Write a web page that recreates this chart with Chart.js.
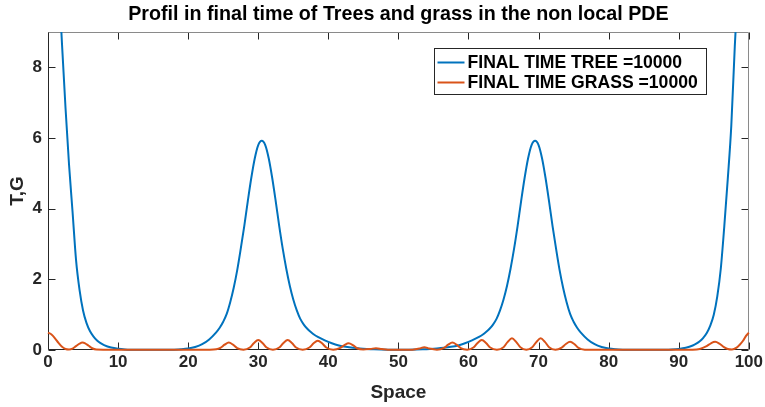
<!DOCTYPE html>
<html>
<head>
<meta charset="utf-8">
<script src="https://cdn.jsdelivr.net/npm/chart.js@4.4.1/dist/chart.umd.min.js"></script>
<style>
  html, body { margin: 0; padding: 0; background: #ffffff; }
  #wrap { width: 765px; height: 407px; }
</style>
</head>
<body>
<div id="wrap"><canvas id="c" width="765" height="407"></canvas></div>
<script>
// ---- data ----
const chartTitle = "Profil in final time of Trees and grass in the non local PDE";
const xLabel = "Space";
const yLabel = "T,G";
const treeLabel = "FINAL TIME TREE =10000";
const grassLabel = "FINAL TIME GRASS =10000";
const xTicks = [0, 10, 20, 30, 40, 50, 60, 70, 80, 90, 100];
const yTicks = [0, 2, 4, 6, 8];

const treeX = [0,0.5,1,1.5,2,2.5,3,3.5,4,4.5,5,5.5,6,6.5,7,7.5,8,9,10,11,12,13,15,
  17,18,19,20,21,22,23,24,24.5,25,25.5,26,26.5,27,27.5,28,28.5,29,29.5,30,30.5,
  31,31.5,32,32.5,33,33.5,34,34.5,35,35.5,36,36.5,37,37.5,38,38.5,39.5,40.5,41.5,42.5,43.5,44.5,45.5,46.5,48.5,
  50,51.5,53.5,54.5,55.5,56.5,57.5,58.5,59.5,60.5,61.5,62,62.5,63,63.5,64,64.5,65,65.5,66,66.5,67,67.5,68,68.5,69,69.5,
  70,70.5,71,71.5,72,72.5,73,73.5,74,74.5,75,75.5,76,77,78,79,80,81,82,83,85,
  87,88,89,90,91,92,92.5,93,93.5,94,94.5,95,95.5,96,96.5,97,97.5,98,98.5,99,99.5,100];
const treeY = [15.5,14.3,12.6,10.6,8.65,6.85,5.25,3.92,2.55,1.7,1.12,0.76,0.53,0.38,0.27,0.195,0.14,0.07,0.035,0.017,0.009,0.005,0.004,
  0.005,0.009,0.019,0.04,0.085,0.165,0.3,0.5,0.63,0.8,1.02,1.35,1.76,2.26,2.86,3.5,4.2,4.86,5.42,5.8,5.92,
  5.8,5.42,4.86,4.2,3.5,2.86,2.3,1.82,1.43,1.12,0.88,0.72,0.6,0.51,0.43,0.37,0.27,0.19,0.13,0.09,0.062,0.043,0.03,0.021,0.01,
  0.006,0.01,0.021,0.03,0.043,0.062,0.09,0.13,0.19,0.27,0.37,0.43,0.51,0.6,0.72,0.88,1.12,1.43,1.82,2.3,2.86,3.5,4.2,4.86,5.42,5.8,5.92,
  5.8,5.42,4.86,4.2,3.5,2.86,2.26,1.76,1.35,1.02,0.8,0.63,0.5,0.3,0.165,0.085,0.04,0.019,0.009,0.005,0.004,
  0.005,0.008,0.016,0.032,0.064,0.128,0.178,0.245,0.345,0.48,0.69,1.0,1.52,2.3,3.5,4.85,6.35,8.6,10.5,12.4,14.0,15.3];

const grassX = [0,0.5,1,1.5,2,2.5,3,3.5,4,4.5,4.9,5.3,5.8,6.3,6.9,8,12,16,20,23,
  24,24.6,25.2,25.8,26.4,27,27.9,28.8,29.4,30,30.6,31.2,32.1,33,33.6,34.2,34.8,35.4,36.35,
  37.3,37.9,38.5,39.1,39.7,40.7,41.7,42.3,42.9,43.5,44.1,45,46,46.8,47.6,48.5,50,52,53,53.7,54.4,55.5,
  56.5,57.1,57.7,58.3,58.9,59.8,60.7,61.3,61.9,62.5,63.1,64.05,65,65.6,66.2,66.8,67.4,68.25,
  69.1,69.7,70.3,70.9,71.5,72.4,73.3,73.9,74.5,75.1,75.7,76.6,78,82,86,90,92,
  93,93.9,94.6,95.2,95.8,96.4,97,97.6,98.2,98.7,99.2,99.6,100];
const grassY = [0.49,0.44,0.33,0.2,0.09,0.03,0.015,0.04,0.11,0.18,0.21,0.19,0.12,0.05,0.015,0.01,0.008,0.008,0.008,0.01,
  0.02,0.06,0.15,0.21,0.15,0.05,0.01,0.07,0.2,0.28,0.2,0.07,0.01,0.07,0.2,0.28,0.2,0.07,0.01,
  0.07,0.19,0.26,0.19,0.07,0.01,0.06,0.14,0.19,0.14,0.05,0.015,0.03,0.05,0.03,0.01,0.005,0.01,0.04,0.08,0.04,0.01,
  0.06,0.15,0.21,0.15,0.05,0.01,0.07,0.2,0.28,0.2,0.07,0.01,0.08,0.23,0.33,0.23,0.08,0.01,
  0.08,0.23,0.33,0.23,0.08,0.01,0.07,0.17,0.23,0.17,0.06,0.01,0.005,0.008,0.008,0.008,0.01,
  0.03,0.1,0.19,0.23,0.18,0.09,0.03,0.015,0.06,0.15,0.27,0.4,0.49];

// ---- styles ----
const BLUE = '#0072BD';
const ORANGE = '#D95319';
const AXIS = '#262626';
const FONT = "'Liberation Sans', Arial, Helvetica, sans-serif";

const toPts = (xs, ys) => xs.map((x, i) => ({ x: x, y: ys[i] }));

// frame, inward ticks, title and legend
const framePlugin = {
  id: 'frame',
  beforeDatasetsDraw(chart) {
    const { ctx, chartArea: a, scales: { x, y } } = chart;
    ctx.save();
    ctx.lineWidth = 1;
    const L = Math.round(a.left) + 0.5, R = Math.round(a.right) - 0.5;
    const T = Math.round(a.top) + 0.5, B = Math.round(a.bottom) - 0.5;
    const tl = 7;
    ctx.strokeStyle = AXIS;
    ctx.beginPath();
    xTicks.forEach(v => {
      const px = Math.round(x.getPixelForValue(v)) + 0.5;
      ctx.moveTo(px, B); ctx.lineTo(px, B - tl);
      ctx.moveTo(px, T); ctx.lineTo(px, T + tl);
    });
    yTicks.forEach(v => {
      const py = Math.round(y.getPixelForValue(v)) + 0.5;
      ctx.moveTo(L, py); ctx.lineTo(L + tl, py);
      ctx.moveTo(R, py); ctx.lineTo(R - tl, py);
    });
    ctx.stroke();
    ctx.strokeStyle = '#8a8a8a';
    ctx.beginPath();
    ctx.moveTo(L, T); ctx.lineTo(R, T); ctx.lineTo(R, B);
    ctx.stroke();
    ctx.strokeStyle = AXIS;
    ctx.beginPath();
    ctx.moveTo(L, T); ctx.lineTo(L, B); ctx.lineTo(R, B);
    ctx.stroke();
    // title centred over the axes
    ctx.fillStyle = '#000000';
    ctx.font = "bold 19.7px " + FONT;
    ctx.textAlign = 'center';
    ctx.textBaseline = 'middle';
    ctx.fillText(chartTitle, (a.left + a.right) / 2, 15);
    ctx.restore();
  },
  afterDatasetsDraw(chart) {
    const { ctx } = chart;
    const ds = chart.data.datasets;
    const items = [ds[1], ds[0]];
    const bx = 434.5, by = 48.5, bw = 272, bh = 46;
    ctx.save();
    ctx.fillStyle = '#ffffff';
    ctx.fillRect(bx, by, bw, bh);
    ctx.strokeStyle = '#262626';
    ctx.lineWidth = 1;
    ctx.strokeRect(bx, by, bw, bh);
    ctx.font = "bold 17.6px " + FONT;
    ctx.textBaseline = 'middle';
    ctx.textAlign = 'left';
    items.forEach((d, i) => {
      const cy = by + 14 + i * 20;
      ctx.strokeStyle = d.borderColor;
      ctx.lineWidth = 2;
      ctx.beginPath();
      ctx.moveTo(bx + 3, cy); ctx.lineTo(bx + 30, cy);
      ctx.stroke();
      ctx.fillStyle = '#000000';
      ctx.fillText(d.label, bx + 33, cy + 1);
    });
    ctx.restore();
  }
};

new Chart(document.getElementById('c'), {
  type: 'line',
  data: {
    datasets: [
      { label: grassLabel, data: toPts(grassX, grassY), borderColor: ORANGE, borderWidth: 2,
        pointRadius: 0, cubicInterpolationMode: 'monotone', fill: false, order: 0,
        clip: { left: 1, right: 1, top: 0, bottom: 3 } },
      { label: treeLabel, data: toPts(treeX, treeY), borderColor: BLUE, borderWidth: 2,
        pointRadius: 0, cubicInterpolationMode: 'monotone', fill: false, order: 1,
        clip: { left: 1, right: 1, top: 0, bottom: 3 } }
    ]
  },
  options: {
    responsive: false,
    animation: false,
    devicePixelRatio: 1,
    layout: { padding: { left: 0, right: 15, top: 32, bottom: 0 } },
    plugins: {
      legend: { display: false },
      tooltip: { enabled: false },
      title: { display: false }
    },
    scales: {
      x: {
        type: 'linear', min: 0, max: 100,
        afterBuildTicks: s => { s.ticks = xTicks.map(v => ({ value: v })); },
        afterFit: s => { s.height = 57; },
        grid: { display: false, drawTicks: false },
        border: { display: false },
        ticks: { color: AXIS, padding: 2, maxRotation: 0, font: { family: FONT, size: 17, weight: 'bold' } },
        title: { display: true, text: xLabel, color: AXIS, padding: { top: 0, bottom: 3 },
          font: { family: FONT, size: 19, weight: 'bold' } }
      },
      y: {
        type: 'linear', min: 0, max: 9,
        afterBuildTicks: s => { s.ticks = yTicks.map(v => ({ value: v })); },
        afterFit: s => { s.width = 48; },
        grid: { display: false, drawTicks: false },
        border: { display: false },
        ticks: { color: AXIS, padding: 6, font: { family: FONT, size: 17, weight: 'bold' } },
        title: { display: true, text: yLabel, color: AXIS, padding: { top: 6, bottom: 0 },
          font: { family: FONT, size: 19, weight: 'bold' } }
      }
    }
  },
  plugins: [framePlugin]
});
</script>
</body>
</html>
